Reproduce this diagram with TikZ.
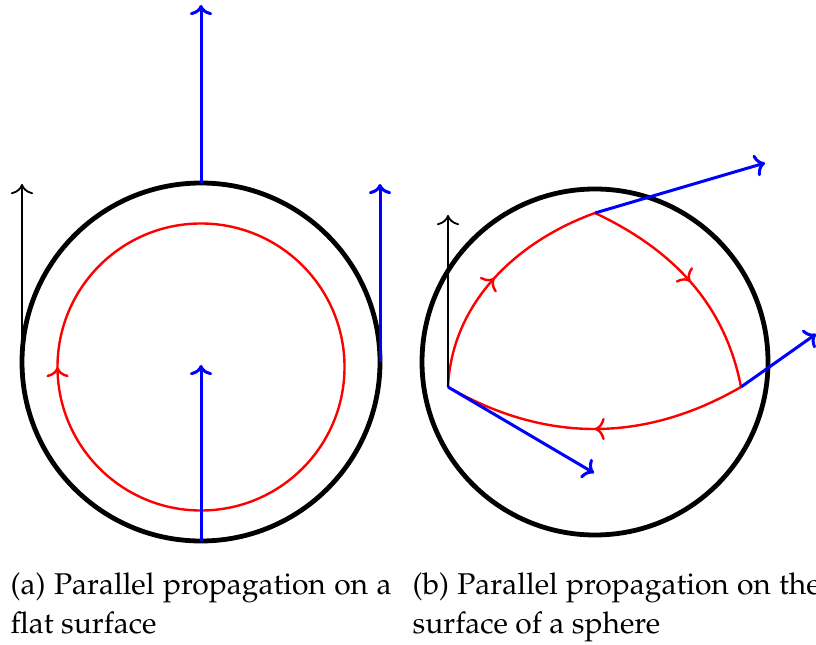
\documentclass[tikz,border=0pt]{standalone}
\usepackage[T1]{fontenc}
\usepackage{mathpazo}
\usetikzlibrary{arrows.meta,decorations.markings}

\tikzset{
  tip/.tip={To[length=3.4pt, width=7.4pt]},
  midarrow/.style={postaction={decorate,decoration={markings,
      mark=at position #1 with {\arrow{tip}}}}},
  rim/.style={line width=1.6pt},
  loopline/.style={red, line width=0.8pt},
  vec/.style={blue, line width=1pt, -tip},
  refvec/.style={black, line width=0.6pt, -tip},
  capbox/.style={inner sep=0pt, align=justify, font=\fontsize{10}{13.3}\selectfont}
}

\begin{document}
\begin{tikzpicture}[x=0.3333pt, y=-0.3333pt]
  \useasboundingbox (0,0) rectangle (816,645);

  % flat surface
  \coordinate (Oa) at (201,362);
  \coordinate (Ra) at (201,367);
  \coordinate (La) at (22,362);
  \coordinate (Lb) at (22,184);
  \coordinate (Ea) at (380,362);
  \coordinate (Eb) at (380,184);
  \coordinate (Ta) at (201,183);
  \coordinate (Tb) at (201,5);
  \coordinate (Ba) at (201,541);
  \coordinate (Bb) at (201,365);

  \draw[rim] (Oa) circle (179);
  \draw[loopline, midarrow=0.5] (Ra) circle (143.5);
  \draw[refvec] (La) -- (Lb);
  \draw[vec] (Ea) -- (Eb);
  \draw[vec] (Ta) -- (Tb);
  \draw[vec] (Ba) -- (Bb);

  % sphere
  \coordinate (Ob) at (595,362);
  \coordinate (P) at (448,387);
  \coordinate (Q) at (595,213);
  \coordinate (S) at (741,387);
  \coordinate (Pn) at (448,215);
  \coordinate (Pv) at (594,473);
  \coordinate (Qv) at (765,163);
  \coordinate (Sv) at (816,334);

  \draw[rim] (Ob) circle (173);
  \draw[loopline, midarrow=0.5] (P) .. controls (452,300) and (520,240) .. (Q);
  \draw[loopline, midarrow=0.5] (Q) .. controls (667,247) and (724,299) .. (S);
  \draw[loopline, midarrow=0.5] (S) .. controls (644,443) and (545,443) .. (P);
  \draw[refvec] (P) -- (Pn);
  \draw[vec] (P) -- (Pv);
  \draw[vec] (Q) -- (Qv);
  \draw[vec] (S) -- (Sv);

  % captions
  \node[capbox, text width=127pt, anchor=base west] (capa) at (10,594)
    {(a) Parallel propagation on a flat surface};
  \node[capbox, text width=136pt, anchor=base west] (capb) at (412,594)
    {(b) Parallel propagation on the surface of a sphere};
\end{tikzpicture}
\end{document}
